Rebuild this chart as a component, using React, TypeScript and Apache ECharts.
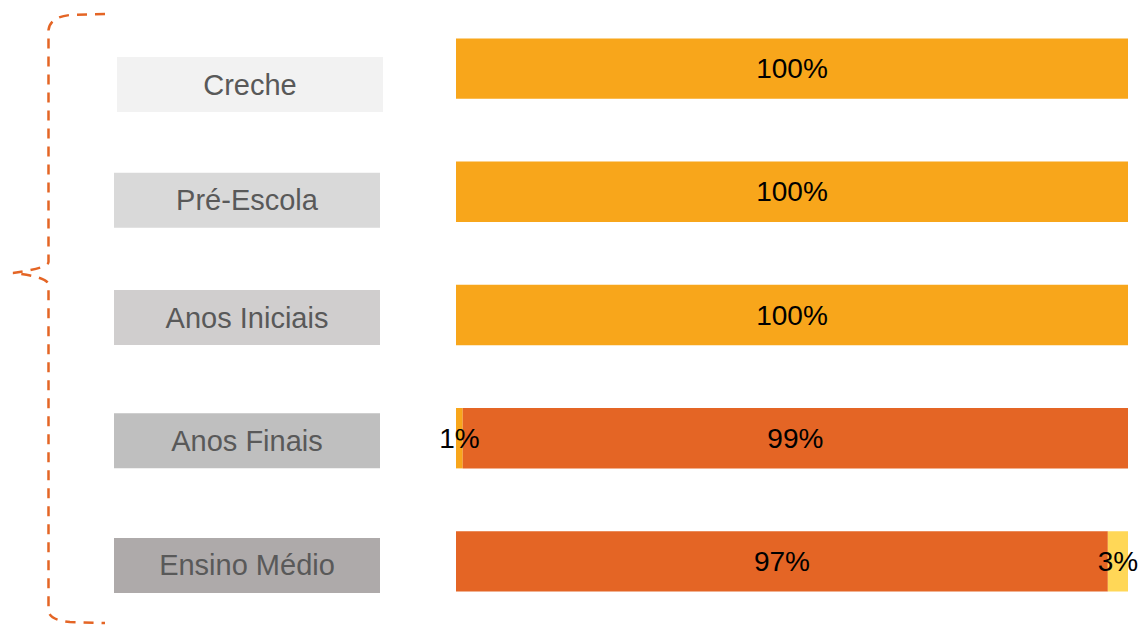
import React, { useEffect, useRef } from "react";
import * as echarts from "echarts";

const categories = ["Creche", "Pré-Escola", "Anos Iniciais", "Anos Finais", "Ensino Médio"];
const seriesAmber = [100, 100, 100, 1, 0];
const seriesOrange = [0, 0, 0, 99, 97];
const seriesYellow = [0, 0, 0, 0, 3];

const boxColors = ["#F2F2F2", "#D9D9D9", "#D0CECE", "#BFBFBF", "#AEAAAA"];
const boxGaps = [32, 17, 5, 5, 8];
const boxRightPad = [0, 3, 3, 3, 3];

const ORANGE = "#E46525";
const AMBER = "#F8A61B";
const YELLOW = "#FFD757";

const bracePath =
  "M105,14 L70,15 Q50,17 48.5,30 L48.5,262 Q48.5,268 13,273 Q48.5,277 48.5,285 L48.5,610 Q48.5,620 70,622 L105,623";

export default function App() {
  const ref = useRef<HTMLDivElement>(null);
  useEffect(() => {
    if (!ref.current) return;
    try {
      echarts.graphic.registerShape("brace", echarts.graphic.extendPath(bracePath, {}));
    } catch (e) {}
    const chart = echarts.init(ref.current, null, { renderer: "svg" });
    const rich: any = {};
    categories.forEach((_, i) => {
      rich["c" + i] = {
        backgroundColor: boxColors[i],
        width: 266,
        height: 55,
        lineHeight: 55,
        align: "center",
        color: "#595959",
        fontSize: 29,
        fontFamily: "Liberation Sans, Arial, sans-serif",
      };
      rich["g" + i] = { height: boxGaps[i], lineHeight: boxGaps[i], fontSize: 1 };
      rich["p" + i] = { width: boxRightPad[i], fontSize: 1 };
    });
    const labelFmt = (p: any) => (p.value > 0 ? p.value + "%" : "");
    const barLabel = {
      show: true,
      position: "inside",
      formatter: labelFmt,
      color: "#000",
      fontSize: 28,
      fontFamily: "Liberation Sans, Arial, sans-serif",
    };
    chart.setOption({
      animation: false,
      backgroundColor: "#ffffff",
      grid: { left: 456, top: 7, width: 672, height: 616, containLabel: false },
      xAxis: { type: "value", min: 0, max: 100, show: false },
      yAxis: {
        type: "category",
        inverse: true,
        data: categories,
        axisLine: { show: false },
        axisTick: { show: false },
        splitLine: { show: false },
        axisLabel: {
          margin: 73,
          align: "right",
          formatter: (v: string) => {
            const i = categories.indexOf(v);
            return "{g" + i + "| }\n{c" + i + "|" + v + "}{p" + i + "| }";
          },
          rich,
        },
      },
      series: [
        {
          type: "bar",
          stack: "s",
          data: seriesAmber,
          barWidth: "49%",
          itemStyle: { color: AMBER },
          label: barLabel,
        },
        {
          type: "bar",
          stack: "s",
          data: seriesOrange,
          barWidth: "49%",
          itemStyle: { color: ORANGE },
          label: barLabel,
        },
        {
          type: "bar",
          stack: "s",
          data: seriesYellow,
          barWidth: "49%",
          itemStyle: { color: YELLOW },
          label: barLabel,
        },
      ],
      graphic: [
        {
          type: "brace",
          x: 0,
          y: 0,
          style: { fill: "none", stroke: ORANGE, lineWidth: 2.5, lineDash: [10, 8] },
        },
      ],
    });
    return () => chart.dispose();
  }, []);
  return (
    <div
      ref={ref}
      style={{ position: "fixed", left: 0, top: 0, width: 1143, height: 625, background: "#fff" }}
    />
  );
}
